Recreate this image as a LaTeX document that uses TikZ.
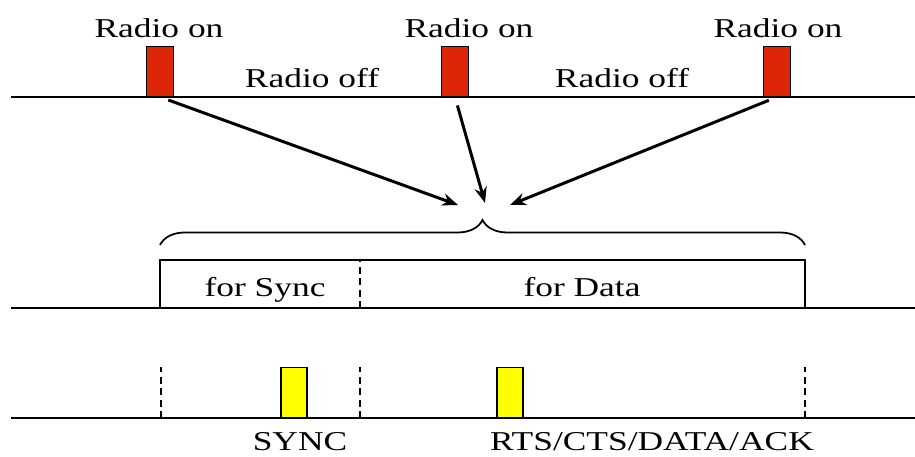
\documentclass[tikz,border=0pt]{standalone}
\usepackage{fontspec}
\setmainfont{Liberation Serif}
\usepackage{tikz}
\usetikzlibrary{arrows.meta,decorations.pathreplacing}

\definecolor{radiored}{RGB}{221,38,8}
\definecolor{slotyellow}{RGB}{255,255,0}

\tikzset{
  lbl/.style={font=\fontsize{15.5}{18}\selectfont, xscale=1.3, anchor=base, inner sep=0pt},
  radio/.style={draw, fill=radiored, line width=0.6pt, inner sep=0pt,
                minimum width=0.54cm, minimum height=1cm, anchor=south},
  pkt/.style={draw, fill=slotyellow, line width=0.6pt, inner sep=0pt,
              minimum width=0.52cm, minimum height=1cm, anchor=south},
  tline/.style={line width=1.1pt},
  divide/.style={line width=1.1pt, dash pattern=on 4pt off 2.5pt}
}

\begin{document}
\begin{tikzpicture}[x=0.02cm, y=0.02cm]
  \useasboundingbox (0,0) rectangle (915,456);

  % time lines
  \draw[tline] (11,359) -- (915,359);
  \draw[tline] (11,148) -- (915,148);
  \draw[tline] (11,38) -- (915,38);

  % radio on / off
  \node[radio] (on1) at (160,359) {};
  \node[radio] (on2) at (455,359) {};
  \node[radio] (on3) at (777,359) {};
  \node[lbl] (lon1) at (159,418) {Radio on};
  \node[lbl] (lon2) at (469,418) {Radio on};
  \node[lbl] (lon3) at (778,418) {Radio on};
  \node[lbl] (loff1) at (312,368) {Radio off};
  \node[lbl] (loff2) at (622,368) {Radio off};

  % frame
  \draw[tline] (160,148) -- (160,196) -- (805,196) -- (805,148);
  \draw[divide] (360,148) -- (360,196);
  \node[lbl] (fsync) at (265,159) {for Sync};
  \node[lbl] (fdata) at (582,159) {for Data};
  \draw[line width=1pt, decorate, decoration={brace, amplitude=0.5cm}]
    (160,211) -- (805,211);

  \coordinate (t1) at (458,251);
  \coordinate (t2) at (485,253);
  \coordinate (t3) at (510,251);
  \path[-{Stealth[length=9pt,width=7pt]}, line width=1.7pt, shorten <=5pt]
    (on1.south) edge (t1)
    (on2.south) edge (t2)
    (on3.south) edge (t3);

  % slots
  \draw[divide] (161,38) -- (161,89);
  \draw[divide] (360,38) -- (360,89);
  \draw[divide] (805,38) -- (805,89);
  \node[pkt] (sync) at (294,38) {};
  \node[pkt] (rts) at (510,38) {};
  \node[lbl] (lsync) at (300,6) {SYNC};
  \node[lbl] (lrts) at (652,6) {RTS/CTS/DATA/ACK};
\end{tikzpicture}
\end{document}
